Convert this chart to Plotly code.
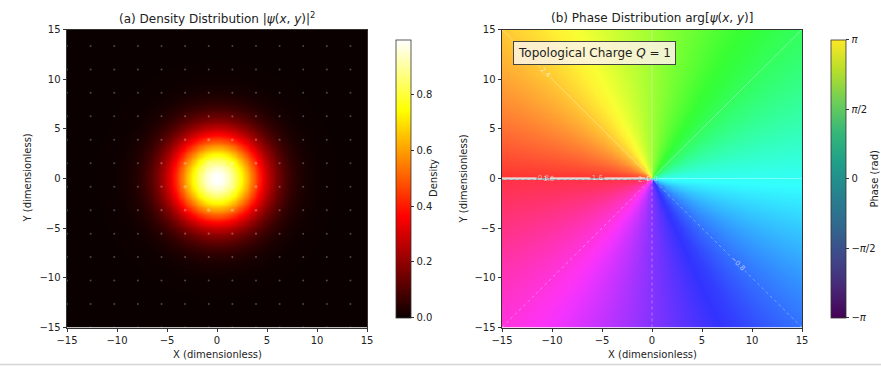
import numpy as np
import plotly.graph_objects as go

# ---------------- data ----------------
grid_n = 128
x = np.linspace(-15, 15, grid_n)
y = np.linspace(-15, 15, grid_n)
peak_density = 1.0
core_sigma = 3.15
charge = 1
quiver_step = 10

axis_ticks = [-15, -10, -5, 0, 5, 10, 15]
axis_ticklabels = ["−15", "−10", "−5", "0", "5", "10", "15"]
density_ticks = [0.0, 0.2, 0.4, 0.6, 0.8]
density_ticklabels = ["0.0", "0.2", "0.4", "0.6", "0.8"]
phase_ticks = [-np.pi, -np.pi / 2, 0, np.pi / 2, np.pi]
phase_ticklabels = ["−<i>π</i>", "−<i>π</i>/2", "0", "<i>π</i>/2", "<i>π</i>"]

X, Y = np.meshgrid(x, y)
R2 = X ** 2 + Y ** 2
density = peak_density * np.exp(-R2 / (2 * core_sigma ** 2))
phase = charge * np.arctan2(Y, X)

# quiver sample points (drawn as tiny marks)
xq = x[::quiver_step]
yq = y[::quiver_step]
XQ, YQ = np.meshgrid(xq, yq)
RQ = np.sqrt(XQ ** 2 + YQ ** 2) + 1e-9
current = peak_density * np.exp(-RQ ** 2 / (2 * core_sigma ** 2)) / RQ
qsize = 2.0 + np.clip(current * 8, 0, 1.5)


# ---------------- colormaps (matplotlib) ----------------
def seg_scale(seg):
    pts = sorted(set(p for ch in seg for p in ch[0]))
    out = []
    for p in pts:
        rgb = [np.interp(p, ch[0], ch[1]) for ch in seg]
        out.append([p, "rgb(%d,%d,%d)" % tuple(int(round(255 * c)) for c in rgb)])
    out[0][0] = 0.0
    out[-1][0] = 1.0
    return out


hot_seg = [
    ([0, 0.365079, 1], [0.0416, 1, 1]),
    ([0, 0.365079, 0.746032, 1], [0, 0, 1, 1]),
    ([0, 0.746032, 1], [0, 0, 1]),
]
hsv_seg = [
    ([0, 0.158730, 0.174603, 0.333333, 0.349206, 0.666667, 0.682540, 0.841270, 0.857143, 1],
     [1, 1, 0.96875, 0.03125, 0, 0, 0, 0.9375, 1, 1]),
    ([0, 0.158730, 0.174603, 0.507937, 0.666667, 0.682540, 1],
     [0, 0.9375, 1, 1, 0.0625, 0, 0]),
    ([0, 0.333333, 0.349206, 0.507937, 0.841270, 0.857143, 1],
     [0, 0, 0.0625, 1, 1, 0.9375, 0.09375]),
]
hot = seg_scale(hot_seg)
hsv = seg_scale(hsv_seg)

W, H = 881, 366
FONT = "DejaVu Sans"
TXT = "#222222"


def px(v):
    return v / W


def py(v):
    return 1 - v / H


L1, R1 = 67, 367
L2, R2x = 502, 802
TOP, BOT = 29.5, 327.5

fig = go.Figure()

# (a) density
fig.add_trace(go.Heatmap(
    x=x, y=y, z=density, colorscale=hot, zmin=0, zmax=density.max(),
    zsmooth="best", xaxis="x", yaxis="y", hoverinfo="skip",
    colorbar=dict(
        x=px(386), xanchor="left", y=py(TOP), yanchor="top",
        len=(BOT - TOP) / H, lenmode="fraction", thickness=15, thicknessmode="pixels",
        outlinewidth=0.8, outlinecolor="#333333",
        tickvals=density_ticks, ticktext=density_ticklabels,
        ticks="outside", ticklen=3.5, tickcolor="#333333", tickwidth=0.8,
        tickfont=dict(family=FONT, size=10, color=TXT),
    ),
))
fig.add_trace(go.Scatter(
    x=XQ.ravel(), y=YQ.ravel(), mode="markers", xaxis="x", yaxis="y",
    marker=dict(size=qsize.ravel(), color="rgba(255,255,255,0.4)", line=dict(width=0)),
    hoverinfo="skip", showlegend=False,
))

# (b) phase: colorbar (viridis) from a transparent layer
fig.add_trace(go.Heatmap(
    x=x, y=y, z=phase, colorscale="Viridis", zmin=-np.pi, zmax=np.pi,
    opacity=0, xaxis="x2", yaxis="y2", hoverinfo="skip",
    colorbar=dict(
        x=px(821), xanchor="left", y=py(TOP), yanchor="top",
        len=(BOT - TOP) / H, lenmode="fraction", thickness=15, thicknessmode="pixels",
        outlinewidth=0.8, outlinecolor="#333333",
        tickvals=phase_ticks, ticktext=phase_ticklabels,
        ticks="outside", ticklen=3.5, tickcolor="#333333", tickwidth=0.8,
        tickfont=dict(family=FONT, size=10, color=TXT),
    ),
))
# image drawn with origin='upper' (rows flipped)
fig.add_trace(go.Heatmap(
    x=x, y=y, z=phase[::-1, :], colorscale=hsv, zmin=-np.pi, zmax=np.pi,
    zsmooth="best", opacity=0.8, showscale=False,
    xaxis="x2", yaxis="y2", hoverinfo="skip",
))
# contour lines (positive solid, negative dashed)
fig.add_trace(go.Contour(
    x=x, y=y, z=phase, xaxis="x2", yaxis="y2", showscale=False, hoverinfo="skip",
    autocontour=False,
    contours=dict(start=0, end=np.pi, size=np.pi / 4, coloring="none",
                  showlabels=True, labelformat=".1f",
                  labelfont=dict(family=FONT, size=7, color="rgba(255,255,255,0.6)")),
    line=dict(color="rgba(255,255,255,0.45)", width=0.8),
))
fig.add_trace(go.Contour(
    x=x, y=y, z=phase, xaxis="x2", yaxis="y2", showscale=False, hoverinfo="skip",
    autocontour=False,
    contours=dict(start=-np.pi, end=-np.pi / 4 + 1e-6, size=np.pi / 4, coloring="none",
                  showlabels=True, labelformat=".1f",
                  labelfont=dict(family=FONT, size=7, color="rgba(255,255,255,0.6)")),
    line=dict(color="rgba(255,255,255,0.45)", width=0.8, dash="dot"),
))

ax_common = dict(
    range=[-15, 15], tickvals=axis_ticks, ticktext=axis_ticklabels,
    showgrid=False, zeroline=False, showline=True, mirror=True,
    linecolor="#333333", linewidth=0.8, ticks="outside", ticklen=3.5,
    tickwidth=0.8, tickcolor="#333333",
    tickfont=dict(family=FONT, size=10, color=TXT),
)

fig.update_layout(
    width=W, height=H, margin=dict(l=0, r=0, t=0, b=0, autoexpand=False),
    paper_bgcolor="white", plot_bgcolor="white", showlegend=False,
    xaxis=dict(domain=[px(L1), px(R1)], anchor="y", **ax_common),
    yaxis=dict(domain=[py(BOT), py(TOP)], anchor="x", **ax_common),
    xaxis2=dict(domain=[px(L2), px(R2x)], anchor="y2", **ax_common),
    yaxis2=dict(domain=[py(BOT), py(TOP)], anchor="x2", **ax_common),
)

ann = [
    dict(text="(a) Density Distribution |<i>ψ</i>(<i>x</i>, <i>y</i>)|<sup>2</sup>",
         x=px((L1 + R1) / 2), y=py(18), font=dict(size=12)),
    dict(text="(b) Phase Distribution arg[<i>ψ</i>(<i>x</i>, <i>y</i>)]",
         x=px((L2 + R2x) / 2), y=py(18), font=dict(size=12)),
    dict(text="X (dimensionless)", x=px((L1 + R1) / 2), y=py(354), font=dict(size=10)),
    dict(text="X (dimensionless)", x=px((L2 + R2x) / 2), y=py(354), font=dict(size=10)),
    dict(text="Y (dimensionless)", x=px(27), y=py((TOP + BOT) / 2), textangle=-90, font=dict(size=10)),
    dict(text="Y (dimensionless)", x=px(463), y=py((TOP + BOT) / 2), textangle=-90, font=dict(size=10)),
    dict(text="Density", x=px(433.5), y=py((TOP + BOT) / 2), textangle=-90, font=dict(size=10)),
    dict(text="Phase (rad)", x=px(874), y=py((TOP + BOT) / 2), textangle=-90, font=dict(size=10)),
]
for a in ann:
    a.setdefault("xanchor", "center")
    a.setdefault("yanchor", "middle")
    a["xref"] = "paper"
    a["yref"] = "paper"
    a["showarrow"] = False
    a["font"] = dict(family=FONT, color=TXT, **a["font"])
    fig.add_annotation(**a)

fig.add_annotation(
    text="Topological Charge <i>Q</i> = %d" % charge,
    xref="paper", yref="paper", x=px(513), y=py(41), xanchor="left", yanchor="top",
    showarrow=False, font=dict(family=FONT, size=12, color=TXT),
    bgcolor="rgba(253,244,226,0.88)", bordercolor="#444444", borderwidth=1, borderpad=4,
)

fig.add_shape(type="line", xref="paper", yref="paper", x0=0, x1=1, y0=py(364.5), y1=py(364.5),
              line=dict(color="#d4d4d4", width=1.5))

fig.write_html(
    "out.html",
    config={"displayModeBar": False},
    post_script="document.body.style.margin='0';document.body.style.overflow='hidden';",
)
